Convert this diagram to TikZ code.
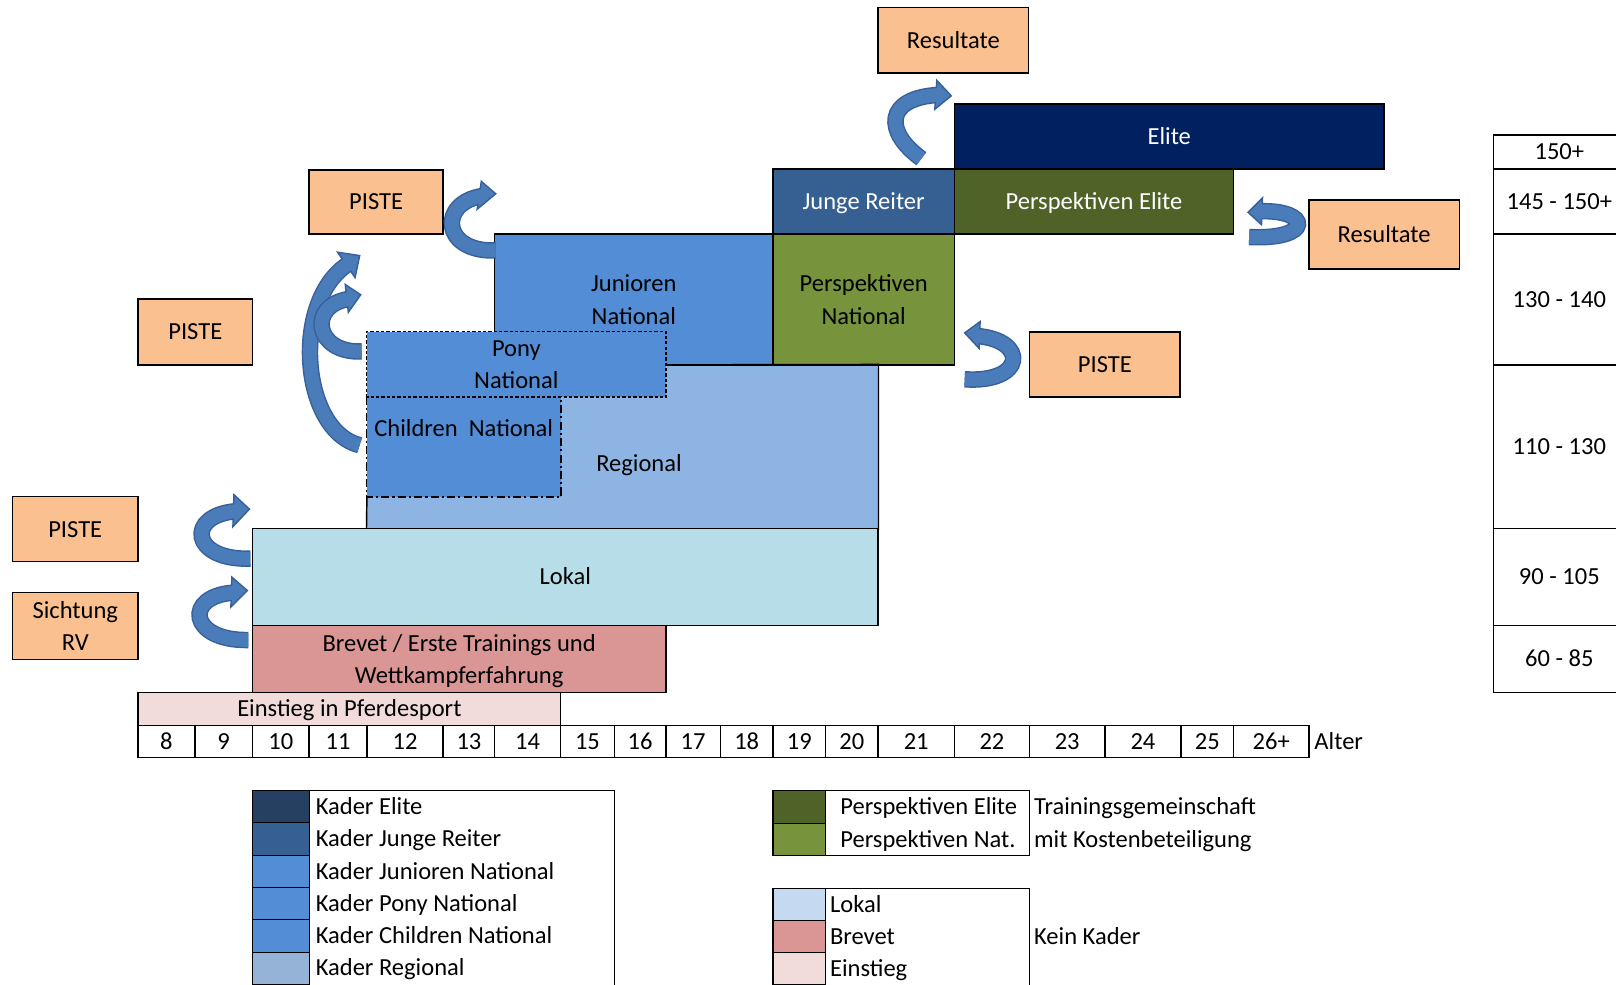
\documentclass[tikz,border=0pt]{standalone}
\usepackage{fontspec}
\setmainfont{Carlito}
\usetikzlibrary{fit}
\definecolor{cPeach}{HTML}{FAC090}
\definecolor{cElite}{HTML}{002060}
\definecolor{cJR}{HTML}{376092}
\definecolor{cPE}{HTML}{4F6228}
\definecolor{cPN}{HTML}{77933C}
\definecolor{cJun}{HTML}{538DD5}
\definecolor{cReg}{HTML}{8DB4E2}
\definecolor{cLok}{HTML}{B7DEE8}
\definecolor{cBrev}{HTML}{DA9694}
\definecolor{cEin}{HTML}{F2DCDB}
\definecolor{cKE}{HTML}{254061}
\definecolor{cKR}{HTML}{95B3D7}
\definecolor{cLL}{HTML}{C5D9F1}
\definecolor{aFill}{HTML}{4A7CB9}
\definecolor{aBord}{HTML}{36609A}
\newcommand\fs{\fontsize{11.9}{15.7}\selectfont}
\newcommand\curv[7]{%
  \draw[abord] #1 .. controls #2 and #3 .. #4;
  \filldraw[ahead] #5 -- #6 -- #7 -- cycle;
  \draw[afill] #1 .. controls #2 and #3 .. #4;
}
% box node from corner coordinates: [opts]{name}{x1}{y1}{x2}{y2}{text}
\newcommand\bx[7][]{%
  \pgfmathsetmacro\bxw{(#5-#3)*0.5}%
  \pgfmathsetmacro\bxh{(#6-#4)*0.5}%
  \node[#1, minimum width=\bxw pt, minimum height=\bxh pt] (#2) at ({(#3+#5)/2},{(#4+#6)/2}) {#7};%
}
\begin{document}
\begin{tikzpicture}[x=0.5pt,y=-0.5pt,
  txt/.style={font=\fs, text height=7.6pt, text depth=0pt, inner sep=0pt},
  mtxt/.style={font=\fs, align=center, text depth=0pt, inner sep=0pt},
  box/.style={rectangle, draw=black, line width=0.7pt, inner sep=0pt},
  peach/.style={box, fill=cPeach},
  swatch/.style={rectangle, draw=black, line width=0.4pt, inner sep=0pt},
  abord/.style={line width=8pt, draw=aBord},
  afill/.style={line width=6.6pt, draw=aFill},
  ahead/.style={fill=aFill, draw=aBord, line width=0.7pt, line join=miter},
  ponydash/.style={line width=0.7pt, dash pattern=on 1.6pt off 1pt},
  childdash/.style={line width=0.7pt, dash pattern=on 4pt off 1.5pt on 1pt off 1.5pt}
]
\useasboundingbox (0,0) rectangle (1568,955);
\clip (0,0) rectangle (1568,955);

% ---------- levels ----------
\bx[rectangle, inner sep=0pt, fill=cReg]{regional}{356}{354}{852}{513}{}
\node[txt] (regionalT) at (620,450) {Regional};

\bx[box, mtxt, fill=cJun]{junioren}{480}{227}{750}{354}{Junioren\\National}
\bx[box, mtxt, fill=cPN]{perspnat}{750}{227}{926}{354}{Perspektiven\\National}
\bx[box, txt, fill=cJR, text=white]{jungereiter}{750}{164}{926}{227}{Junge Reiter}
\bx[box, txt, fill=cPE, text=white]{perspelite}{926}{164}{1197}{227}{Perspektiven Elite}
\bx[box, txt, fill=cElite, text=white]{elite}{926}{101}{1343}{164}{Elite}

\draw[line width=0.7pt] (356,482) -- (regional.south west) -- (regional.south east)
   -- (regional.north east) -- (646,354);

\bx[rectangle, mtxt, fill=cJun]{pony}{356}{322}{646}{385}{Pony\\National}
\bx[rectangle, inner sep=0pt, fill=cJun]{children}{356}{385}{544}{482}{}
\node[txt] (childrenT) at (450,416) {Children\ \ National};
\draw[ponydash] (pony.south west) rectangle (pony.north east);
\draw[childdash] (children.north west) -- (children.south west) -- (children.south east) -- (children.north east);

\bx[box, txt, fill=cLok]{lokal}{245}{513}{852}{607}{Lokal}
\bx[box, mtxt, fill=cBrev]{brevet}{245}{607}{646}{672}{Brevet / Erste Trainings und\\Wettkampferfahrung}
\bx[box, txt, fill=cEin]{einstieg}{134}{672}{544}{704}{Einstieg in Pferdesport}

% ---------- age axis ----------
\foreach \a/\b/\t [count=\i] in {134/189/8, 189/245/9, 245/300/10, 300/356/11, 356/430/12,
  430/480/13, 480/544/14, 544/596/15, 596/646/16, 646/699/17, 699/750/18, 750/801/19,
  801/852/20, 852/926/21, 926/999/22, 999/1072/23, 1072/1146/24, 1146/1197/25, 1197/1270/26+}{
  \bx[box, txt, fill=white]{age\i}{\a}{704}{\b}{735}{\t}
}
\node[txt, anchor=west] (alter) at (1275,720) {Alter};

% ---------- peach boxes ----------
\bx[peach, txt]{res1}{852}{7}{998}{71}{Resultate}
\bx[peach, txt]{piste1}{300}{165}{430}{227}{PISTE}
\bx[peach, txt]{piste2}{134}{290}{245}{354}{PISTE}
\bx[peach, txt]{piste3}{12}{482}{134}{545}{PISTE}
\bx[peach, mtxt]{sicht}{12}{575}{134}{640}{Sichtung\\RV}
\bx[peach, txt]{res2}{1270}{194}{1416}{261}{Resultate}
\bx[peach, txt]{piste4}{999}{322}{1145}{385}{PISTE}

% ---------- curved arrows ----------
\coordinate (a1t) at (894,154); \coordinate (a1h) at (923,93);
\curv{(a1t)}{(858,128)}{(858,95)}{(911,92)}{(909,78)}{(a1h)}{(907,106)}
\coordinate (a2t) at (481,243); \coordinate (a2h) at (481,188);
\curv{(a2t)}{(428,245)}{(425,196)}{(469,190)}{(467,176)}{(a2h)}{(463,203)}
\coordinate (a3t) at (349,432); \coordinate (a3h) at (349,248);
\curv{(a3t)}{(292,418)}{(282,292)}{(338,256)}{(327.5,244.7)}{(a3h)}{(344.5,269.3)}
\coordinate (a4t) at (351,341); \coordinate (a4h) at (350,286);
\curv{(a4t)}{(305,343)}{(298,296)}{(339,290)}{(335,276)}{(a4h)}{(338,303)}
\coordinate (a5t) at (243,542); \coordinate (a5h) at (242,494);
\curv{(a5t)}{(185,544)}{(180,500)}{(229,496)}{(227,480)}{(a5h)}{(226,511)}
\coordinate (a6t) at (241,621); \coordinate (a6h) at (240,573);
\curv{(a6t)}{(183,622)}{(178,578)}{(227,575)}{(225,560)}{(a6h)}{(224,589)}
\coordinate (a7t) at (1212,230); \coordinate (a7h) at (1211,206);
\curv{(a7t)}{(1275,233)}{(1272,203)}{(1222,205)}{(1225,192)}{(a7h)}{(1224,218)}
\coordinate (a8t) at (936,368); \coordinate (a8h) at (936,323);
\curv{(a8t)}{(995,372)}{(998,330)}{(948,326)}{(951,312)}{(a8h)}{(950,338)}

% ---------- right table ----------
\bx[box, txt]{t1}{1449}{131}{1577}{164}{150+}
\bx[box, txt]{t2}{1449}{164}{1577}{227}{145 - 150+}
\bx[box, txt]{t3}{1449}{227}{1577}{354}{130 - 140}
\bx[box, txt]{t4}{1449}{354}{1577}{513}{110 - 130}
\bx[box, txt]{t5}{1449}{513}{1577}{607}{90 - 105}
\bx[box, txt]{t6}{1449}{607}{1577}{672}{60 - 85}

% ---------- legend 1 ----------
\node[box, fit={(245,767) (596,975)}] (leg1) {};
\foreach \c/\t [count=\i from 0] in {cKE/Kader Elite, cJR/Kader Junge Reiter,
  cJun/Kader Junioren National, cJun/Kader Pony National,
  cJun/Kader Children National, cKR/Kader Regional}{
  \node[swatch, fill=\c, fit={(245,767+31.33*\i) (300,798.33+31.33*\i)}] (ls\i) {};
  \node[txt, anchor=west] (lt\i) at (306,782.7+31.33*\i) {\t};
}

% ---------- legend 2 ----------
\node[box, fit={(750,767) (999,830)}] (leg2) {};
\node[swatch, fill=cPE, fit={(750,767) (801,798.5)}] (lpe) {};
\node[swatch, fill=cPN, fit={(750,798.5) (801,830)}] (lpn) {};
\node[txt, anchor=west] (lpeT) at (815,783) {Perspektiven Elite};
\node[txt, anchor=west] (lpnT) at (815,815) {Perspektiven Nat.};
\node[txt, anchor=west] (tg1) at (1003,783) {Trainingsgemeinschaft};
\node[txt, anchor=west] (tg2) at (1003,815) {mit Kostenbeteiligung};

% ---------- legend 3 ----------
\node[box, fit={(750,862) (999,975)}] (leg3) {};
\node[swatch, fill=cLL, fit={(750,862) (801,893)}] (lll) {};
\node[swatch, fill=cBrev, fit={(750,893) (801,924)}] (llb) {};
\node[swatch, fill=cEin, fit={(750,924) (801,955)}] (lle) {};
\node[txt, anchor=west] (lllT) at (805,878) {Lokal};
\node[txt, anchor=west] (llbT) at (805,909) {Brevet};
\node[txt, anchor=west] (lleT) at (805,940) {Einstieg};
\node[txt, anchor=west] (kein) at (1003,909) {Kein Kader};
\end{tikzpicture}
\end{document}
